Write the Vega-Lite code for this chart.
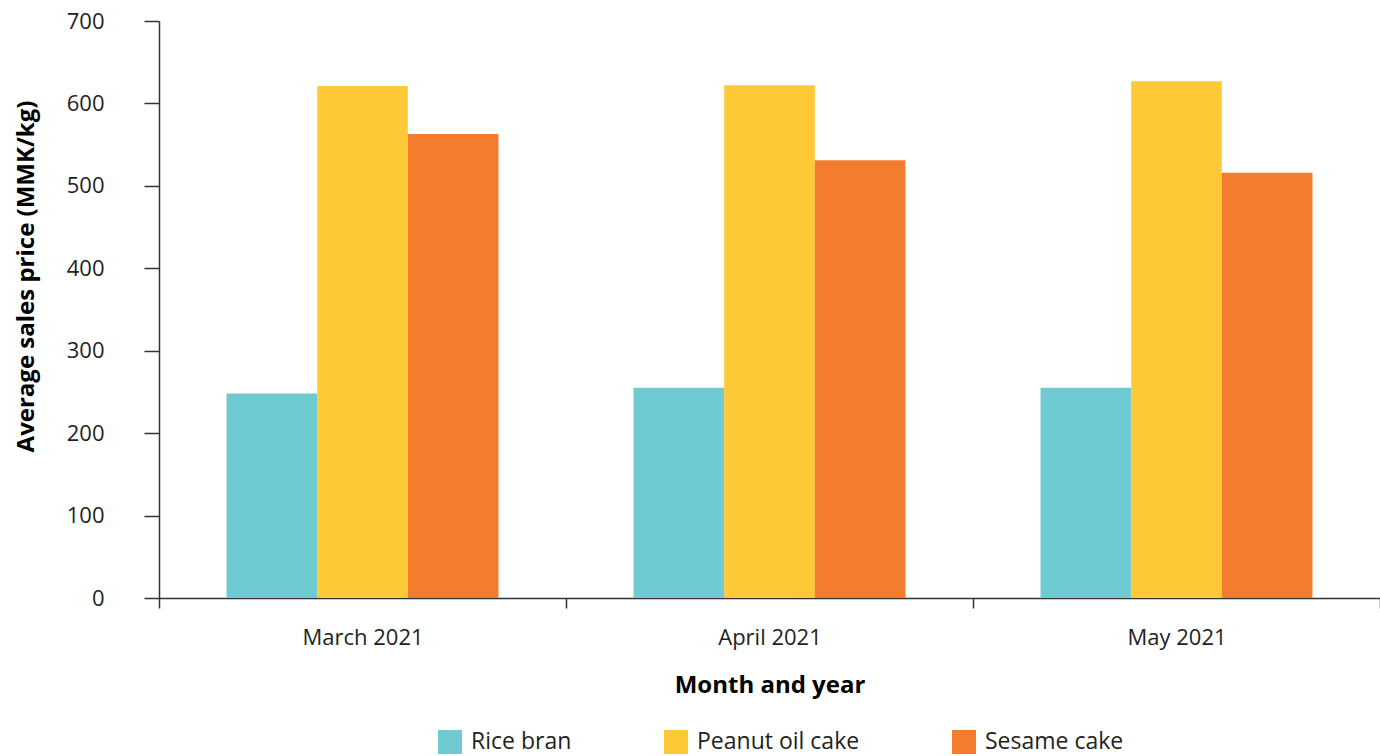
{
  "$schema": "https://vega.github.io/schema/vega-lite/v6.json",
  "autosize": "none",
  "width": 1221,
  "height": 577,
  "padding": {"left": 159, "top": 21, "right": 0, "bottom": 158},
  "background": "white",
  "data": {
    "values": [
      {"month": "March 2021", "feed": "Rice bran", "price": 248},
      {"month": "March 2021", "feed": "Peanut oil cake", "price": 621},
      {"month": "March 2021", "feed": "Sesame cake", "price": 563},
      {"month": "April 2021", "feed": "Rice bran", "price": 255},
      {"month": "April 2021", "feed": "Peanut oil cake", "price": 622},
      {"month": "April 2021", "feed": "Sesame cake", "price": 531},
      {"month": "May 2021", "feed": "Rice bran", "price": 255},
      {"month": "May 2021", "feed": "Peanut oil cake", "price": 627},
      {"month": "May 2021", "feed": "Sesame cake", "price": 516}
    ]
  },
  "config": {
    "view": {"stroke": null},
    "font": "Open Sans"
  },
  "mark": {"type": "bar"},
  "encoding": {
    "x": {
      "field": "month",
      "type": "nominal",
      "sort": ["March 2021", "April 2021", "May 2021"],
      "scale": {"paddingInner": 0, "paddingOuter": 0},
      "axis": {
        "title": "Month and year",
        "titleFont": "Open Sans",
        "titleFontSize": 24,
        "titleFontWeight": "bold",
        "titleColor": "#000000",
        "titlePadding": 25,
        "labelAngle": 0,
        "labelFont": "Open Sans",
        "labelFontSize": 22,
        "labelColor": "#231f20",
        "labelPadding": 19,
        "tickBand": "extent",
        "tickSize": 10,
        "tickColor": "#333333",
        "domainColor": "#333333",
        "domainWidth": 1.5,
        "tickWidth": 1.5
      }
    },
    "xOffset": {
      "field": "feed",
      "type": "nominal",
      "sort": ["Rice bran", "Peanut oil cake", "Sesame cake"],
      "scale": {"paddingInner": 0, "paddingOuter": 0.745}
    },
    "y": {
      "field": "price",
      "type": "quantitative",
      "scale": {"domain": [0, 700], "nice": false},
      "axis": {
        "title": "Average sales price (MMK/kg)",
        "titleFont": "Open Sans",
        "titleFontSize": 24,
        "titleFontWeight": "bold",
        "titleColor": "#000000",
        "titleX": -126,
        "titleY": 255,
        "titleBaseline": "alphabetic",
        "values": [0, 100, 200, 300, 400, 500, 600, 700],
        "grid": false,
        "labelFont": "Open Sans",
        "labelFontSize": 22,
        "labelColor": "#231f20",
        "labelPadding": 40,
        "tickSize": 15,
        "tickColor": "#333333",
        "domainColor": "#333333",
        "domainWidth": 1.5,
        "tickWidth": 1.5
      }
    },
    "color": {
      "field": "feed",
      "type": "nominal",
      "sort": ["Rice bran", "Peanut oil cake", "Sesame cake"],
      "scale": {
        "domain": ["Rice bran", "Peanut oil cake", "Sesame cake"],
        "range": ["#6fcbd1", "#fec937", "#f47c2e"]
      },
      "legend": {
        "title": null,
        "orient": "none",
        "direction": "horizontal",
        "legendX": 279,
        "legendY": 709,
        "padding": 0,
        "symbolType": "square",
        "symbolSize": 576,
        "symbolStrokeWidth": 0,
        "symbolOpacity": 1,
        "labelFont": "Open Sans",
        "labelFontSize": 23,
        "labelLimit": 400,
        "labelColor": "#231f20",
        "labelOffset": 9,
        "columnPadding": 92
      }
    }
  }
}
